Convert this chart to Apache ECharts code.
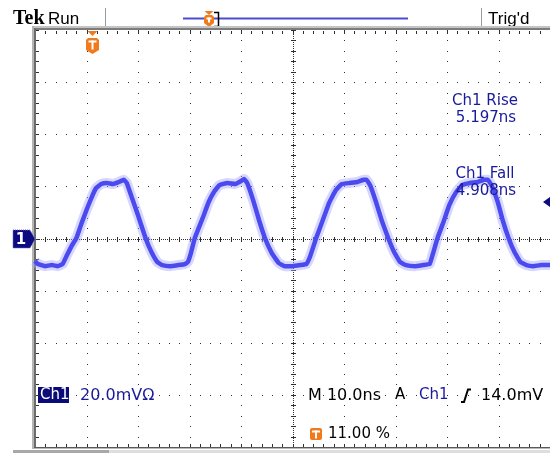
<!DOCTYPE html>
<html>
<head>
<meta charset="utf-8">
<script src="https://cdn.jsdelivr.net/npm/echarts@6/dist/echarts.min.js"></script>
<style>
  html, body { margin: 0; padding: 0; background: #ffffff; }
  #chart { width: 550px; height: 453px; }
</style>
</head>
<body>
<div id="chart"></div>
<script>
// Channel 1 acquisition: time (ns) and amplitude (mV)
const timeNs = [
  0.0, 0.57, 1.92, 3.26, 4.41, 5.36, 6.13, 7.09, 8.05, 9.00, 10.15, 11.11, 11.88, 12.84,
  13.98, 15.13, 16.28, 17.24, 17.82, 18.77, 19.92, 21.46, 22.61, 23.75, 24.71, 26.25, 27.78,
  29.12, 29.69, 30.27, 31.03, 32.57, 33.72, 34.87, 35.82, 37.36, 38.89, 40.04, 40.61, 41.19,
  42.34, 43.49, 44.64, 45.98, 47.32, 48.47, 50.00, 51.53, 52.68, 53.45, 54.60, 55.75, 57.09,
  58.43, 59.58, 61.11, 62.64, 63.79, 64.37, 65.13, 66.28, 67.43, 68.58, 69.73, 70.88, 72.03,
  73.75, 75.29, 76.63, 77.20, 78.16, 79.31, 80.46, 81.80, 82.95, 84.48, 86.02, 87.16, 87.93,
  88.70, 89.85, 90.80, 91.95, 93.10, 94.25, 95.40, 96.74, 98.28, 100.0
];
const ch1mV = [
  -8.6, -9.8, -10.6, -10.2, -10.6, -9.8, -6.7, -2.9, 0.2, 5.6, 11.7, 16.3, 19.4, 20.9,
  21.3, 20.9, 21.7, 22.5, 21.3, 15.9, 9.4, 0.2, -5.2, -9.0, -10.2, -10.6, -10.2,
  -9.8, -9.0, -5.6, 0.2, 7.9, 14.0, 18.2, 20.5, 21.3, 20.9, 22.1, 22.8, 21.3,
  14.8, 7.1, 0.2, -5.6, -9.4, -10.6, -10.6, -10.2, -9.8, -6.7, 0.2, 6.3, 13.6,
  18.6, 20.9, 21.3, 21.7, 22.5, 22.5, 20.2, 13.6, 6.3, 0.2, -5.2, -9.0, -10.2,
  -10.6, -10.2, -9.8, -6.3, 0.2, 6.3, 12.9, 17.9, 20.5, 21.3, 21.7, 22.5, 22.5,
  20.2, 14.0, 7.1, 0.2, -5.2, -9.0, -10.2, -10.6, -10.2, -10.2
];

// Graticule: 10 ns/div horizontally, 20 mV/div vertically
const timeTicksNs = [0, 10, 20, 30, 40, 50, 60, 70, 80, 90, 100];
const voltTicksMv = [-80, -60, -40, -20, 0, 20, 40, 60, 80];
const minorPerDiv = 5;

// Trigger settings and readouts
const trigPosPercent = 11.00;
const trigLevelMv = 14.0;
const measurements = [
  { label: 'Ch1 Rise', value: '5.197ns' },
  { label: 'Ch1 Fall', value: '4.908ns' }
];
const scaleText = '20.0mV\u03A9';
const timebaseText = 'M 10.0ns';
const trigLevelText = '14.0mV';

const NAVY = '#1a1a9c';
const ORANGE = '#f07a1c';
const readoutFont = '15px "DejaVu Sans", sans-serif';
const statusFont = '16px "DejaVu Sans", sans-serif';

const tMin = timeTicksNs[0], tMax = timeTicksNs[timeTicksNs.length - 1];
const vMin = voltTicksMv[0], vMax = voltTicksMv[voltTicksMv.length - 1];
const trigPosNs = tMin + (tMax - tMin) * trigPosPercent / 100;

function minorSteps(ticks) {
  const out = [];
  for (let i = 0; i < ticks.length - 1; i++) {
    const step = (ticks[i + 1] - ticks[i]) / minorPerDiv;
    for (let k = 0; k < minorPerDiv; k++) out.push(ticks[i] + k * step);
  }
  out.push(ticks[ticks.length - 1]);
  return out;
}

function trigShield(kids, cx, top, w, h) {
  kids.push({ type: 'polygon', shape: { points: [
    [cx - w / 2, top + 2], [cx - w / 2 + 2, top], [cx + w / 2 - 2, top], [cx + w / 2, top + 2],
    [cx + w / 2, top + h - 4], [cx, top + h], [cx - w / 2, top + h - 4]
  ] }, style: { fill: ORANGE } });
  kids.push({ type: 'rect', shape: { x: cx - w / 2 + 2.5, y: top + 2.5, width: w - 5, height: 2 }, style: { fill: '#fff' } });
  kids.push({ type: 'rect', shape: { x: cx - 1, y: top + 2.5, width: 2, height: h - 7 }, style: { fill: '#fff' } });
}

function drawGraticule(params, api) {
  const P = (t, v) => api.coord([t, v]);
  const kids = [];
  const dot = (x, y, w, h, fill) => kids.push({ type: 'rect', shape: { x, y, width: w, height: h }, style: { fill } });
  const W = api.getWidth();
  const [x0, yTop] = P(tMin, vMax);
  const [, yBot] = P(tMax, vMin);
  const [xc, yc] = P((tMin + tMax) / 2, 0);
  const tMinor = minorSteps(timeTicksNs);
  const vMinor = minorSteps(voltTicksMv);
  const ink = '#303030';

  // dotted major lines
  timeTicksNs.forEach((t, i) => {
    if (i === 0 || i === 5) return;
    const x = Math.round(P(t, 0)[0]);
    if (x > W) return;
    vMinor.forEach(v => dot(x, Math.round(P(t, v)[1]), 1, 1, ink));
  });
  voltTicksMv.forEach((v, j) => {
    if (j === 0 || j === 4 || j === voltTicksMv.length - 1) return;
    const y = Math.round(P(0, v)[1]);
    tMinor.forEach(t => {
      const x = Math.round(P(t, v)[0]);
      if (x <= W) dot(x, y, 1, 1, ink);
    });
  });

  // centre cross: fine dots with minor ticks
  const cx = Math.round(xc), cy = Math.round(yc);
  for (let y = Math.round(yTop); y < yBot; y += 2) dot(cx, y, 1, 1, ink);
  for (let x = Math.round(x0); x < W; x += 2) dot(x, cy, 1, 1, ink);
  vMinor.forEach(v => dot(cx - 2, Math.round(P(0, v)[1]), 5, 1, ink));
  tMinor.forEach(t => {
    const x = Math.round(P(t, 0)[0]);
    if (x <= W) dot(x, cy - 2, 1, 5, ink);
  });

  // border ticks
  vMinor.forEach(v => dot(Math.round(x0) + 1, Math.round(P(0, v)[1]), 3, 1, ink));
  tMinor.forEach(t => {
    const x = Math.round(P(t, 0)[0]);
    if (x > W) return;
    dot(x, Math.round(yTop) + 1, 1, 3, ink);
    dot(x, Math.round(yBot) - 3, 1, 3, ink);
  });

  // frame
  dot(Math.round(x0) - 3, Math.round(yTop) - 4, W, 2, '#c4c4c4');
  dot(Math.round(x0) - 3, Math.round(yTop) - 2, W, 2, '#7c7c7c');
  dot(Math.round(x0) - 3, Math.round(yTop) - 4, 2, yBot - yTop + 6, '#b4b4b4');
  dot(Math.round(x0) - 1, Math.round(yTop) - 2, 2, yBot - yTop + 4, '#6c6c6c');
  dot(Math.round(x0) - 1, Math.round(yBot), W, 1, '#5a5a5a');
  dot(Math.round(x0) - 1, Math.round(yBot) + 1, W, 1, '#b8b8b8');

  // trigger position marker at top of graticule
  const tx = Math.round(P(trigPosNs, 0)[0]) + 0.5;
  kids.push({ type: 'polygon', shape: { points: [[tx - 5, yTop + 1], [tx + 5, yTop + 1], [tx, yTop + 6]] }, style: { fill: ORANGE } });
  trigShield(kids, tx, yTop + 8, 13, 16);

  // channel 1 ground reference marker
  const gx = Math.round(x0);
  kids.push({ type: 'polygon', shape: { points: [[gx - 22, cy - 9], [gx - 5, cy - 9], [gx, cy], [gx - 5, cy + 9], [gx - 22, cy + 9]] },
    style: { fill: '#0c0c80', stroke: '#6a6ad0', lineWidth: 1, lineDash: [1, 1] } });
  kids.push({ type: 'text', x: gx - 14, y: cy + 1, style: { text: '1', fill: '#fff', font: 'bold 15px "DejaVu Sans", sans-serif', align: 'center', verticalAlign: 'middle' } });

  // trigger level arrow on right edge
  const ly = Math.round(P(0, trigLevelMv)[1]);
  kids.push({ type: 'polygon', shape: { points: [[W - 7, ly], [W, ly - 5], [W, ly + 5]] }, style: { fill: '#0c0c80' } });

  return { type: 'group', children: kids };
}

const trace = timeNs.map((t, i) => [t, ch1mV[i]]);

const chart = echarts.init(document.getElementById('chart'), null, { renderer: 'canvas' });

const hdrFont = '17px "Liberation Sans", Arial, sans-serif';
const TOP_Z = 100;
const graphic = [
  { type: 'text', x: 13, y: 19, style: { text: 'Tek', fill: '#000', font: 'bold 20px "Liberation Serif", serif', verticalAlign: 'middle' } },
  { type: 'text', x: 48, y: 19, style: { text: 'Run', fill: '#000', font: hdrFont, verticalAlign: 'middle' } },
  { type: 'line', shape: { x1: 105.5, y1: 8, x2: 105.5, y2: 27 }, style: { stroke: '#9a9a9a', lineWidth: 1 } },
  { type: 'line', shape: { x1: 481.5, y1: 8, x2: 481.5, y2: 27 }, style: { stroke: '#9a9a9a', lineWidth: 1 } },
  { type: 'text', x: 488, y: 19, style: { text: "Trig'd", fill: '#000', font: hdrFont, verticalAlign: 'middle' } },
  { type: 'line', shape: { x1: 183, y1: 18.5, x2: 408, y2: 18.5 }, style: { stroke: '#4c4cd0', lineWidth: 2 } },
  { type: 'polyline', shape: { points: [[214, 12.5], [218.5, 12.5], [218.5, 26.5], [214, 26.5]] }, style: { stroke: '#000', lineWidth: 1.5, fill: null } },

  // measurement readouts (drawn above the trace)
  { type: 'text', z: TOP_Z, x: 485, y: 101, style: { text: measurements[0].label, fill: NAVY, font: readoutFont, align: 'center', verticalAlign: 'middle' } },
  { type: 'text', z: TOP_Z, x: 486, y: 118, style: { text: measurements[0].value, fill: NAVY, font: readoutFont, align: 'center', verticalAlign: 'middle' } },
  { type: 'text', z: TOP_Z, x: 485, y: 174, style: { text: measurements[1].label, fill: NAVY, font: readoutFont, align: 'center', verticalAlign: 'middle' } },
  { type: 'text', z: TOP_Z, x: 486, y: 191, style: { text: measurements[1].value, fill: NAVY, font: readoutFont, align: 'center', verticalAlign: 'middle' } },

  // channel / timebase readouts
  { type: 'rect', shape: { x: 38, y: 387, width: 31, height: 16 }, style: { fill: '#0a0a78' } },
  { type: 'text', x: 40, y: 395.5, style: { text: 'Ch1', fill: '#fff', font: readoutFont, verticalAlign: 'middle' } },
  { type: 'text', x: 80, y: 395.5, style: { text: scaleText, fill: NAVY, font: statusFont, verticalAlign: 'middle' } },
  { type: 'text', x: 308, y: 395.5, style: { text: timebaseText, fill: '#000', font: statusFont, verticalAlign: 'middle' } },
  { type: 'text', x: 395, y: 395.5, style: { text: 'A', fill: '#000', font: readoutFont, verticalAlign: 'middle' } },
  { type: 'text', x: 419, y: 395.5, style: { text: 'Ch1', fill: NAVY, font: readoutFont, verticalAlign: 'middle' } },
  { type: 'polyline', shape: { points: [[461, 402], [464, 402], [468, 389.5], [471, 389.5]] }, style: { stroke: '#000', lineWidth: 2, fill: null } },
  { type: 'text', x: 481, y: 395.5, style: { text: trigLevelText, fill: '#000', font: statusFont, verticalAlign: 'middle' } },
  { type: 'rect', shape: { x: 310, y: 428, width: 12, height: 12, r: 2 }, style: { fill: ORANGE } },
  { type: 'rect', shape: { x: 312, y: 430.5, width: 8, height: 2 }, style: { fill: '#fff' } },
  { type: 'rect', shape: { x: 315, y: 430.5, width: 2, height: 8 }, style: { fill: '#fff' } },
  { type: 'text', x: 328, y: 434, style: { text: trigPosPercent.toFixed(2) + ' %', fill: '#000', font: readoutFont, verticalAlign: 'middle' } },

  // status strip along the bottom edge
  { type: 'rect', shape: { x: 13, y: 450, width: 96, height: 3 }, style: { fill: '#a8a8a8' } },
  { type: 'rect', shape: { x: 109, y: 450, width: 441, height: 3 }, style: { fill: '#dedede' } }
];

// record-window trigger marker (shield on the record bar)
(function () {
  const kids = [];
  kids.push({ type: 'polygon', shape: { points: [[204.5, 11], [213.5, 11], [209, 15]] }, style: { fill: ORANGE } });
  trigShield(kids, 209, 15, 10, 12);
  graphic.push({ type: 'group', children: kids });
})();

chart.setOption({
  animation: false,
  backgroundColor: '#ffffff',
  grid: { left: 35, top: 30, width: 522, height: 417, containLabel: false },
  xAxis: {
    type: 'value', min: tMin, max: tMax, interval: 10, show: false
  },
  yAxis: {
    type: 'value', min: vMin, max: vMax, interval: 20, show: false
  },
  graphic: graphic,
  series: [
    {
      type: 'custom', name: 'graticule', coordinateSystem: 'cartesian2d',
      data: [[tMin, 0]], renderItem: drawGraticule, silent: true, z: 1, clip: false
    },
    {
      type: 'line', name: 'Ch1 persistence', data: trace, symbol: 'none', smooth: 0.1, silent: true, z: 2,
      lineStyle: { color: 'rgba(165,165,255,0.45)', width: 10 }
    },
    {
      type: 'line', name: 'Ch1', data: trace, symbol: 'none', smooth: 0.1, silent: true, z: 4,
      lineStyle: { color: '#4a4aee', width: 4.5 }
    }
  ]
});
</script>
</body>
</html>
